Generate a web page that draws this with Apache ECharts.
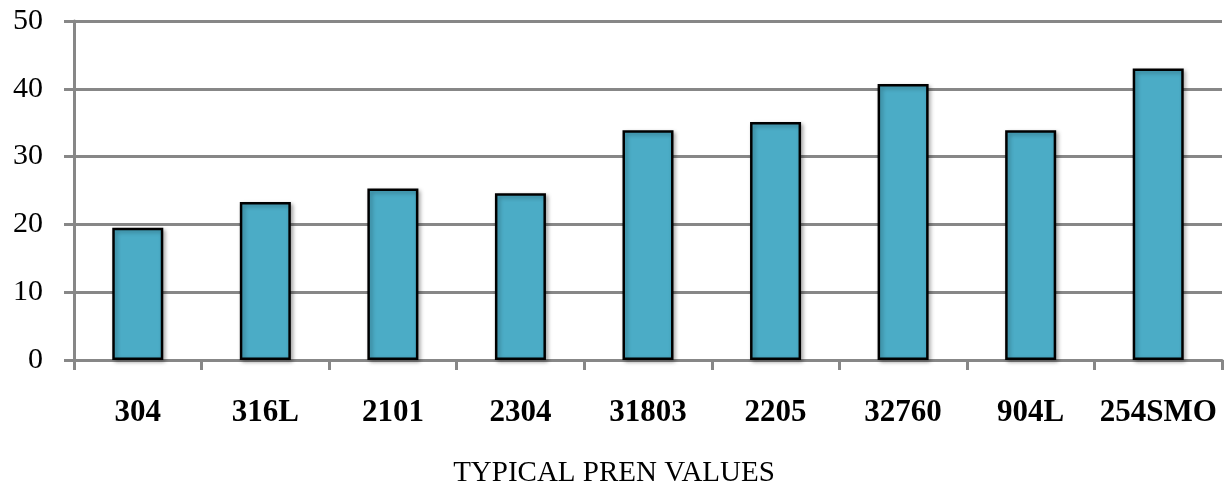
<!DOCTYPE html>
<html><head><meta charset="utf-8">
<script src="https://cdn.jsdelivr.net/npm/echarts@6/dist/echarts.min.js"></script>
<style>html,body{margin:0;padding:0;background:#fff}#c{width:1227px;height:491px}</style>
</head><body><div id="c"></div>
<script>
const categories = ['304','316L','2101','2304','31803','2205','32760','904L','254SMO'];
const values = [19.5, 23.3, 25.3, 24.6, 33.9, 35.1, 40.7, 33.9, 43.0];
const yTicks = [0, 10, 20, 30, 40, 50];
const xTitle = 'TYPICAL PREN VALUES';

const chart = echarts.init(document.getElementById('c'));
const gray = '#878787';
chart.setOption({
  animation: false,
  title: {
    text: xTitle, left: 609, top: 454, textAlign: 'center',
    textStyle: {fontFamily: 'Liberation Serif', fontSize: 29, fontWeight: 'normal', color: '#000'}
  },
  grid: {left: 74, right: 5, top: 21, bottom: 131, containLabel: false},
  xAxis: {
    type: 'category', data: categories,
    axisLine: {lineStyle: {color: gray, width: 3}},
    axisTick: {show: true, interval: 0, length: 10, lineStyle: {color: gray, width: 3}, alignWithLabel: false},
    axisLabel: {interval: 0, margin: 37, fontFamily: 'Liberation Serif', fontSize: 31, fontWeight: 'bold', color: '#000'}
  },
  yAxis: {
    type: 'value', min: yTicks[0], max: yTicks[yTicks.length-1], interval: 10,
    axisLine: {show: true, lineStyle: {color: gray, width: 3}},
    axisTick: {show: true, length: 10, lineStyle: {color: gray, width: 3}},
    splitLine: {lineStyle: {color: gray, width: 3}},
    axisLabel: {margin: 31, fontFamily: 'Liberation Serif', fontSize: 30, color: '#000'}
  },
  series: [{
    type: 'bar', data: values, barWidth: '40%',
    itemStyle: {color: '#4BACC6', borderColor: '#000', borderWidth: 2.5,
      shadowColor: 'rgba(0,0,0,0.3)', shadowBlur: 4, shadowOffsetX: 2, shadowOffsetY: 2}
  }]
});
</script></body></html>
